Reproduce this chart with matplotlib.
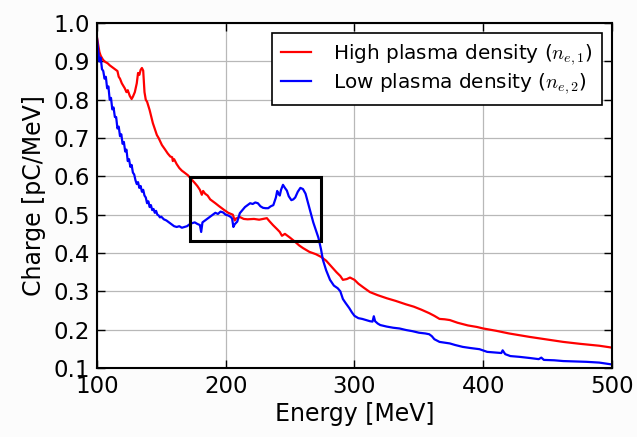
#!/usr/bin/env python

import matplotlib
matplotlib.use('Agg')
import matplotlib.pyplot as plt
from matplotlib.patches import Rectangle


#################
# Spectrum data #
#################

energy_high = [
    100, 101, 102, 103, 104.7, 106, 108.5, 110, 112.4, 114, 116, 117, 118,
    119.4, 121.7, 123, 124, 125.6, 127, 128, 129.5, 131, 132, 133, 134, 135,
    136, 137, 138, 139, 141, 143.5, 146.6, 148, 150.5, 153, 155, 157, 158.5,
    159, 160, 162, 164, 166, 168, 170.7, 173, 176, 178, 180, 181.5, 182.5,
    184, 186, 188, 190, 192, 195, 199, 202, 205.6, 207, 208, 211, 214, 217,
    222, 226, 229, 232, 234, 236.7, 240, 242, 243.7, 246, 250, 254, 257, 260,
    265, 270, 274, 278, 282, 286, 289, 291, 294, 296.5, 300, 303, 307, 312,
    318, 325, 332, 340, 346, 352, 358, 362, 366, 370, 374, 380, 388, 395,
    400, 410, 420, 436, 450, 462, 475, 490, 500,
]
charge_high = [
    0.965, 0.945, 0.925, 0.915, 0.905, 0.900, 0.895, 0.890, 0.884, 0.880,
    0.875, 0.860, 0.855, 0.843, 0.830, 0.820, 0.825, 0.810, 0.802, 0.808,
    0.820, 0.843, 0.870, 0.865, 0.878, 0.883, 0.876, 0.820, 0.800, 0.795,
    0.773, 0.739, 0.708, 0.700, 0.682, 0.670, 0.660, 0.652, 0.650, 0.640,
    0.645, 0.632, 0.622, 0.615, 0.610, 0.603, 0.594, 0.583, 0.575, 0.565,
    0.552, 0.562, 0.555, 0.550, 0.540, 0.535, 0.530, 0.522, 0.512, 0.505,
    0.500, 0.485, 0.490, 0.494, 0.489, 0.488, 0.489, 0.487, 0.489, 0.491,
    0.483, 0.473, 0.462, 0.455, 0.445, 0.450, 0.440, 0.429, 0.420, 0.413,
    0.403, 0.397, 0.390, 0.380, 0.365, 0.350, 0.340, 0.330, 0.332, 0.336,
    0.330, 0.320, 0.310, 0.298, 0.290, 0.282, 0.275, 0.266, 0.260, 0.252,
    0.243, 0.236, 0.228, 0.227, 0.225, 0.218, 0.211, 0.207, 0.203, 0.197,
    0.190, 0.181, 0.174, 0.168, 0.163, 0.158, 0.153,
]

energy_low = [
    100, 101, 102, 103, 104, 105, 106, 107, 108, 109, 110, 111, 112, 113,
    114, 115, 116, 117, 118, 119, 120, 121, 122, 123, 124, 125, 126, 127,
    128, 129, 130, 131, 132, 133, 134, 135, 136, 137, 138, 139, 140, 141,
    142, 143, 144, 145, 146, 147, 148, 149, 150, 152, 154, 156, 158, 160,
    162, 164, 166, 168, 170, 172, 174, 176, 178, 180, 181, 182, 184, 186,
    188, 190, 192, 194, 196, 198, 200, 202, 204, 205, 206, 207, 209, 211,
    213, 215, 217, 219, 221, 223, 225, 227, 229, 231, 233, 235, 237, 239,
    240, 241, 242, 243, 244.5, 246, 247.5, 249, 251, 252.5, 254, 256, 258,
    260, 262, 264, 266, 268, 270, 272, 274, 275.5, 278, 281, 284, 287, 289,
    291, 293, 296, 298, 300, 303, 306, 309, 312, 314, 315, 316, 318, 320,
    325, 330, 335, 340, 345, 350, 355, 358, 360, 362, 366, 370, 374, 378,
    384, 390, 397, 403, 410, 414, 415, 417, 421, 428, 436, 443, 445, 447,
    455, 462, 470, 480, 490, 500,
]
charge_low = [
    0.965, 0.930, 0.900, 0.910, 0.880, 0.875, 0.855, 0.860, 0.830, 0.835,
    0.800, 0.805, 0.775, 0.780, 0.755, 0.755, 0.725, 0.730, 0.705, 0.710,
    0.685, 0.690, 0.665, 0.670, 0.640, 0.645, 0.625, 0.630, 0.610, 0.605,
    0.590, 0.580, 0.585, 0.570, 0.575, 0.560, 0.565, 0.550, 0.545, 0.530,
    0.535, 0.520, 0.525, 0.512, 0.515, 0.505, 0.510, 0.500, 0.498, 0.493,
    0.495, 0.488, 0.485, 0.480, 0.475, 0.470, 0.468, 0.470, 0.466, 0.468,
    0.470, 0.475, 0.478, 0.480, 0.476, 0.473, 0.455, 0.480, 0.485, 0.490,
    0.495, 0.500, 0.505, 0.502, 0.508, 0.506, 0.500, 0.498, 0.494, 0.490,
    0.468, 0.475, 0.482, 0.504, 0.512, 0.520, 0.525, 0.530, 0.528, 0.532,
    0.530, 0.522, 0.518, 0.517, 0.517, 0.522, 0.525, 0.545, 0.562, 0.555,
    0.550, 0.565, 0.578, 0.570, 0.563, 0.548, 0.538, 0.540, 0.545, 0.560,
    0.570, 0.567, 0.555, 0.530, 0.505, 0.480, 0.460, 0.440, 0.410, 0.382,
    0.355, 0.330, 0.315, 0.308, 0.300, 0.280, 0.270, 0.256, 0.245, 0.236,
    0.230, 0.228, 0.225, 0.222, 0.221, 0.235, 0.222, 0.216, 0.212, 0.208,
    0.205, 0.203, 0.199, 0.196, 0.192, 0.190, 0.188, 0.183, 0.175, 0.168,
    0.166, 0.164, 0.160, 0.155, 0.152, 0.149, 0.142, 0.140, 0.139, 0.146,
    0.136, 0.131, 0.129, 0.126, 0.123, 0.127, 0.121, 0.120, 0.118, 0.117,
    0.116, 0.114, 0.109,
]

# highlighted energy window: (E_min, E_max, Q_min, Q_max)
window = (172, 274, 0.432, 0.598)

xticks = [100, 200, 300, 400, 500]
yticks = [0.1, 0.2, 0.3, 0.4, 0.5, 0.6, 0.7, 0.8, 0.9, 1.0]


############
# Plotting #
############

plt.rcParams['mathtext.fontset'] = 'cm'
plt.rcParams['font.family'] = 'DejaVu Sans'

fig = plt.figure(figsize=(6.37, 4.37), dpi=100)
fig.patch.set_facecolor('#fcfcfc')
ax = fig.add_axes([0.152, 0.158, 0.809, 0.789])

ax.plot(energy_high, charge_high, color='red', lw=1.6,
        label=r'High plasma density ($n_{e,1}$)')
ax.plot(energy_low, charge_low, color='blue', lw=1.6,
        label=r'Low plasma density ($n_{e,2}$)')

e0, e1, q0, q1 = window
ax.add_patch(Rectangle((e0, q0), e1 - e0, q1 - q0, fill=False,
                       edgecolor='black', lw=2.2, zorder=5))

ax.set_xlim(100, 500)
ax.set_ylim(0.1, 1.0)
ax.set_xticks(xticks)
ax.set_yticks(yticks)
ax.set_xticklabels([str(t) for t in xticks])
ax.set_yticklabels(['%.1f' % t for t in yticks])

ax.grid(True, color='#b8b8b8', lw=0.9, ls='-')
ax.set_axisbelow(True)
ax.tick_params(direction='in', top=True, right=True, length=6, width=1,
               labelsize=16.5, pad=5)
for spine in ax.spines.values():
    spine.set_linewidth(1.5)

ax.set_xlabel('Energy [MeV]', fontsize=17, labelpad=3)
ax.set_ylabel('Charge [pC/MeV]', fontsize=17, labelpad=5)

leg = ax.legend(loc='upper right', fontsize=14.4, fancybox=False,
                framealpha=1, edgecolor='black', handlelength=1.5,
                handletextpad=1.1, borderpad=0.45, labelspacing=0.2,
                borderaxespad=0.5)
leg.get_frame().set_linewidth(1.2)

fig.savefig('out.png', dpi=100, facecolor=fig.get_facecolor())
